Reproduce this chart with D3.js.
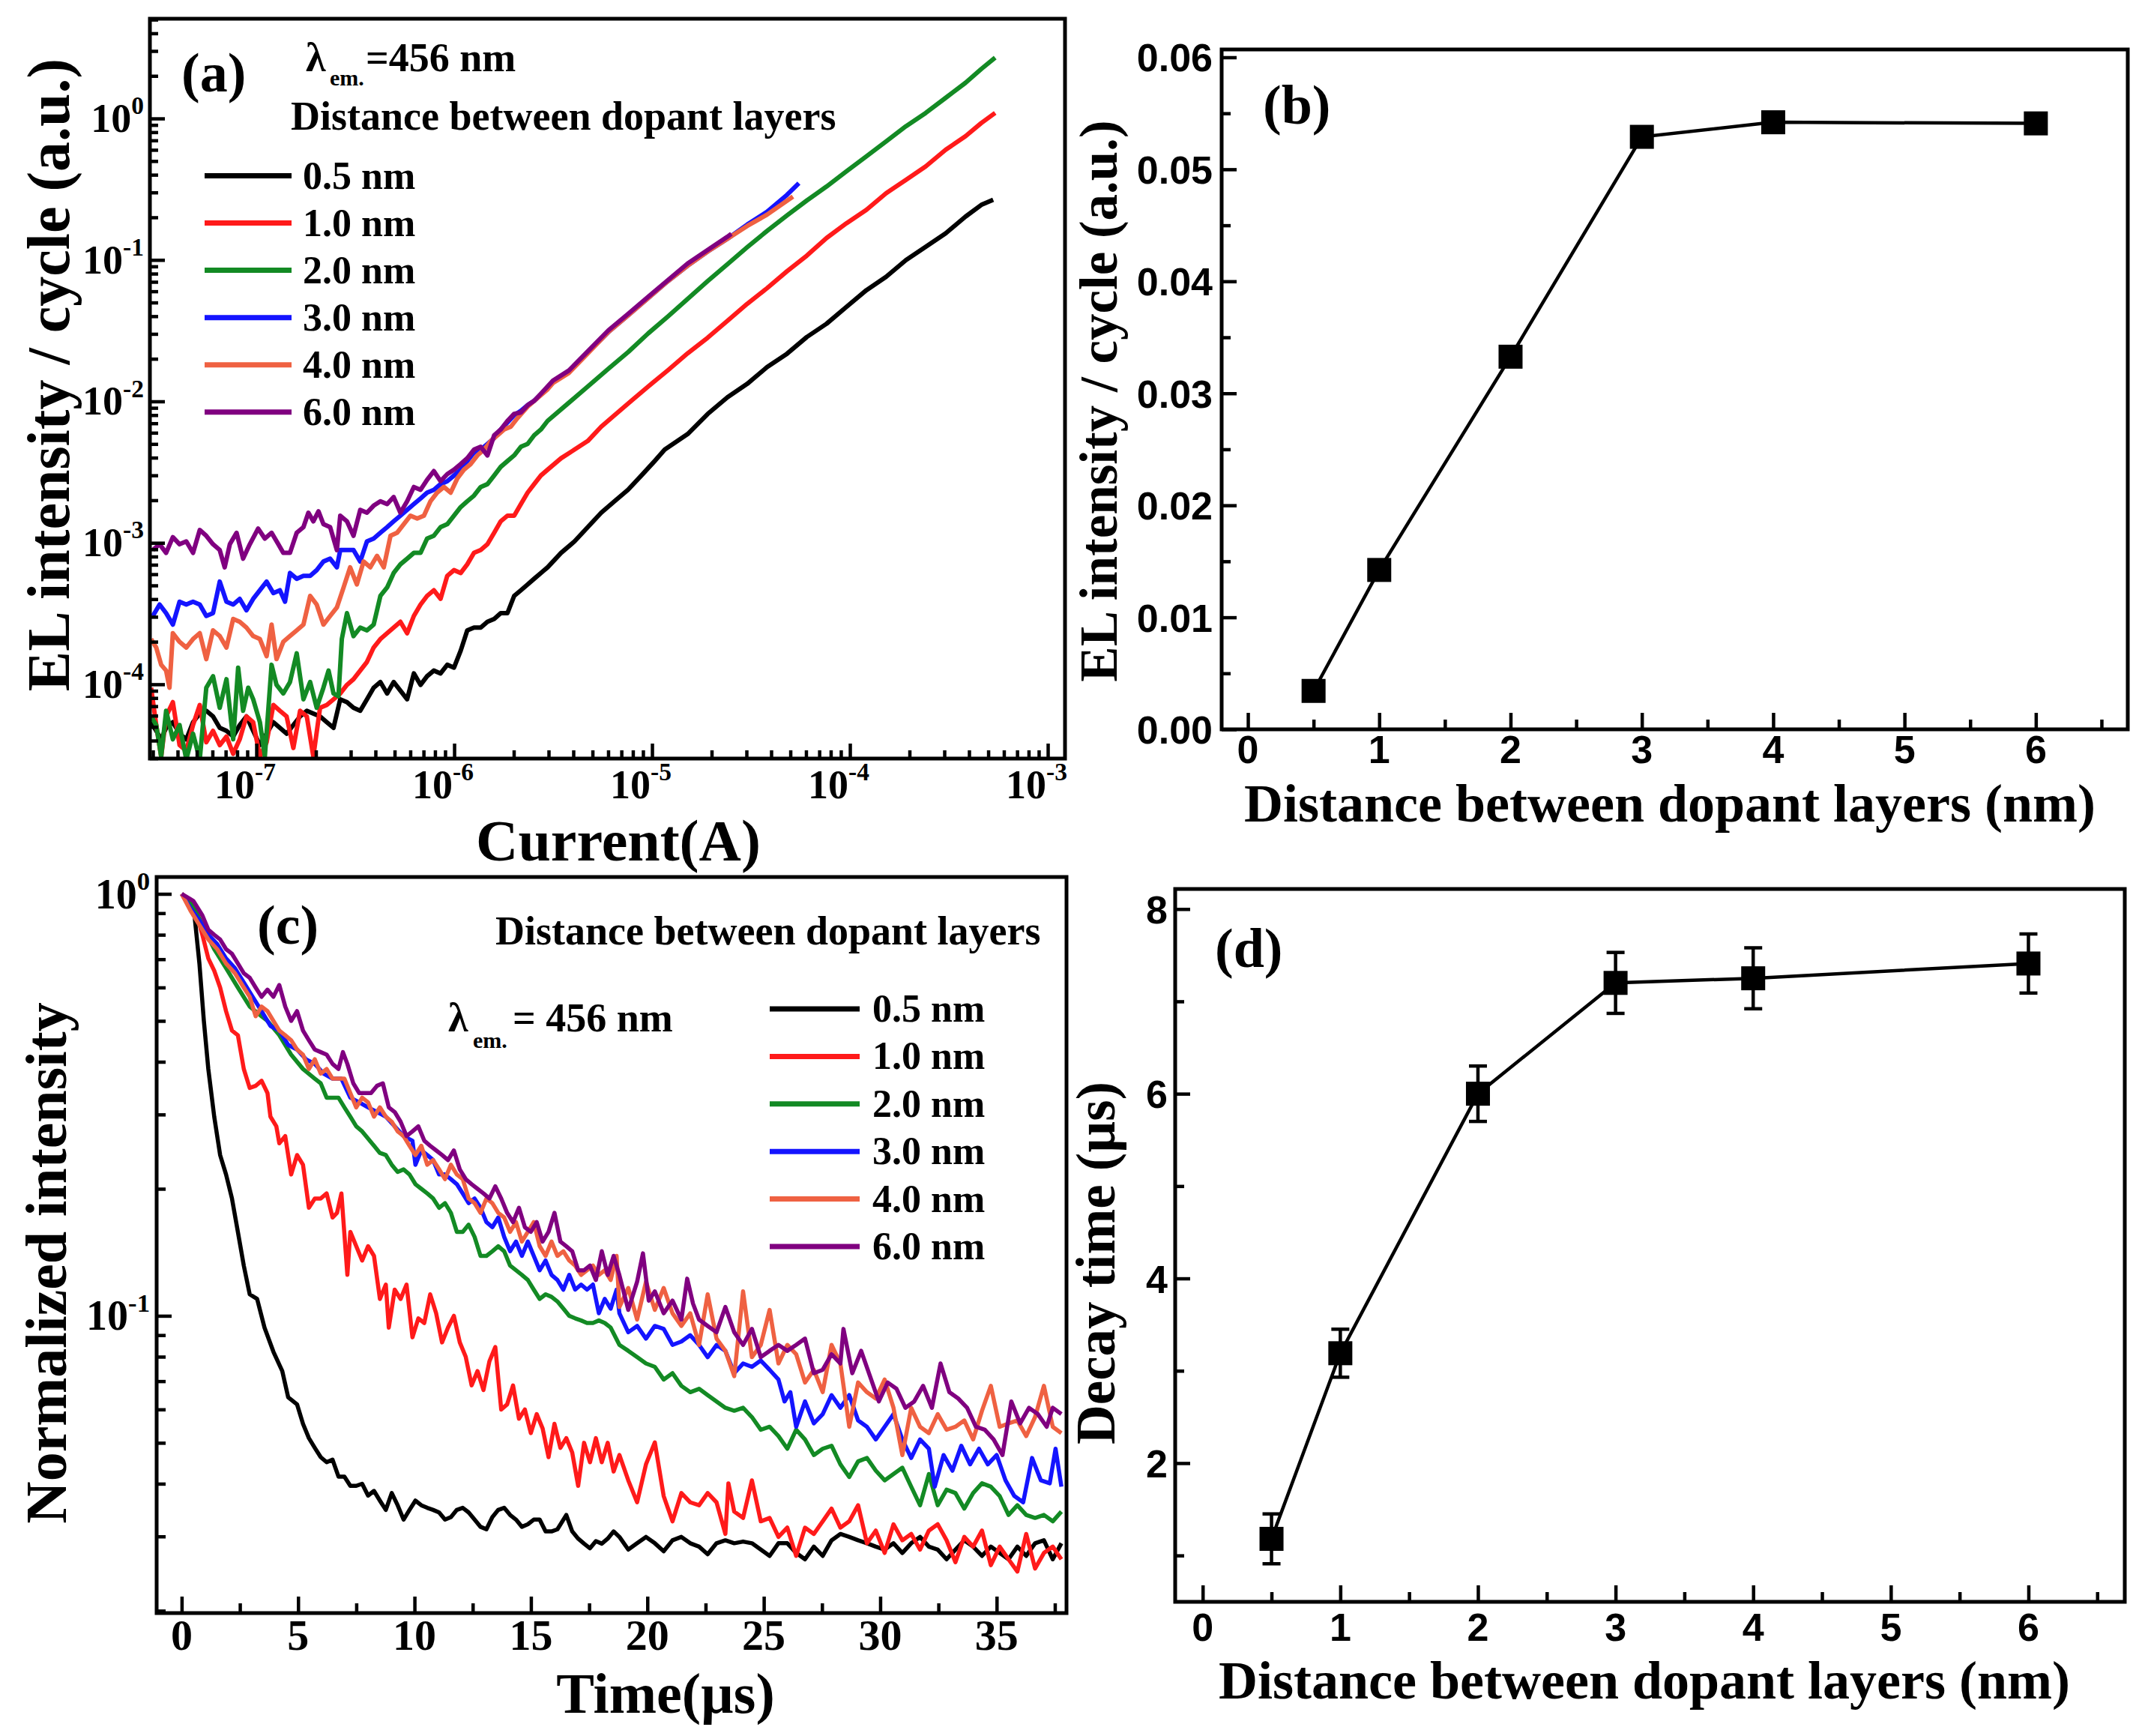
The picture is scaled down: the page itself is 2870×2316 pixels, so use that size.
<!DOCTYPE html>
<html><head><meta charset="utf-8">
<script src="https://cdn.jsdelivr.net/npm/d3@7"></script>
<style>body{margin:0;background:#fff}svg{display:block}</style>
</head><body><svg id="c" width="2870" height="2316"></svg>
<script>
// ---------- shared ----------
const seriesLabels = ["0.5 nm","1.0 nm","2.0 nm","3.0 nm","4.0 nm","6.0 nm"];
const seriesColors = ["#000000","#ff1a1a","#138a24","#1414ff","#ef6142","#800080"];

// ---------- panel (a): [log10 current (A), log10 EL intensity/cycle] ----------
const elA_05 = [[-7.532,-4.268],[-7.506,-4.329],[-7.481,-4.389],[-7.456,-4.308],[-7.422,-4.268],[-7.388,-4.349],[-7.354,-4.389],[-7.320,-4.268],[-7.286,-4.207],[-7.253,-4.187],[-7.219,-4.227],[-7.185,-4.308],[-7.151,-4.329],[-7.117,-4.369],[-7.084,-4.288],[-7.050,-4.227],[-7.016,-4.329],[-6.982,-4.430],[-6.948,-4.349],[-6.914,-4.268],[-6.881,-4.308],[-6.847,-4.349],[-6.813,-4.288],[-6.779,-4.227],[-6.745,-4.187],[-6.712,-4.207],[-6.678,-4.227],[-6.644,-4.268],[-6.610,-4.308],[-6.576,-4.106],[-6.542,-4.126],[-6.509,-4.166],[-6.475,-4.187],[-6.441,-4.106],[-6.407,-4.024],[-6.373,-3.984],[-6.339,-4.065],[-6.306,-3.984],[-6.272,-4.045],[-6.238,-4.106],[-6.204,-3.923],[-6.170,-4.004],[-6.137,-3.943],[-6.103,-3.903],[-6.069,-3.923],[-6.035,-3.862],[-6.001,-3.882],[-5.967,-3.761],[-5.934,-3.619],[-5.900,-3.599],[-5.866,-3.599],[-5.832,-3.558],[-5.798,-3.538],[-5.765,-3.497],[-5.731,-3.497],[-5.697,-3.375],[-5.663,-3.335],[-5.629,-3.294],[-5.596,-3.254],[-5.562,-3.213],[-5.528,-3.173],[-5.460,-3.071],[-5.392,-2.990],[-5.325,-2.889],[-5.257,-2.787],[-5.190,-2.706],[-5.122,-2.625],[-5.054,-2.524],[-4.987,-2.422],[-4.936,-2.341],[-4.820,-2.231],[-4.719,-2.089],[-4.619,-1.971],[-4.519,-1.876],[-4.419,-1.758],[-4.318,-1.663],[-4.218,-1.545],[-4.118,-1.451],[-4.018,-1.332],[-3.917,-1.214],[-3.817,-1.119],[-3.717,-1.001],[-3.617,-0.907],[-3.516,-0.812],[-3.416,-0.694],[-3.336,-0.611],[-3.276,-0.575]];
const elA_10 = [[-7.532,-4.024],[-7.506,-4.288],[-7.481,-4.511],[-7.456,-4.227],[-7.422,-4.126],[-7.388,-4.430],[-7.354,-4.471],[-7.320,-4.288],[-7.286,-4.146],[-7.253,-4.410],[-7.219,-4.329],[-7.185,-4.430],[-7.151,-4.369],[-7.117,-4.491],[-7.084,-4.389],[-7.050,-4.227],[-7.016,-4.268],[-6.982,-4.511],[-6.948,-4.410],[-6.914,-4.146],[-6.881,-4.187],[-6.847,-4.227],[-6.813,-4.450],[-6.779,-4.187],[-6.745,-4.227],[-6.712,-4.511],[-6.678,-4.166],[-6.644,-4.146],[-6.610,-4.106],[-6.576,-4.065],[-6.542,-4.004],[-6.509,-3.964],[-6.475,-3.903],[-6.441,-3.842],[-6.407,-3.740],[-6.373,-3.680],[-6.339,-3.639],[-6.306,-3.599],[-6.272,-3.558],[-6.238,-3.639],[-6.204,-3.517],[-6.170,-3.436],[-6.137,-3.375],[-6.103,-3.335],[-6.069,-3.396],[-6.035,-3.233],[-6.001,-3.193],[-5.967,-3.213],[-5.934,-3.152],[-5.900,-3.071],[-5.866,-3.051],[-5.832,-3.010],[-5.798,-2.929],[-5.765,-2.848],[-5.731,-2.808],[-5.697,-2.808],[-5.663,-2.726],[-5.629,-2.645],[-5.596,-2.585],[-5.562,-2.524],[-5.528,-2.483],[-5.460,-2.402],[-5.392,-2.341],[-5.325,-2.280],[-5.257,-2.179],[-5.190,-2.098],[-5.105,-1.996],[-5.020,-1.895],[-4.920,-1.780],[-4.820,-1.660],[-4.719,-1.550],[-4.619,-1.430],[-4.519,-1.310],[-4.419,-1.200],[-4.318,-1.080],[-4.218,-0.970],[-4.118,-0.845],[-4.018,-0.741],[-3.917,-0.646],[-3.817,-0.528],[-3.717,-0.434],[-3.617,-0.339],[-3.516,-0.221],[-3.416,-0.126],[-3.336,-0.032],[-3.266,0.039]];
const elA_20 = [[-7.532,-4.227],[-7.506,-4.288],[-7.481,-4.511],[-7.456,-4.187],[-7.422,-4.389],[-7.388,-4.288],[-7.354,-4.531],[-7.320,-4.349],[-7.286,-4.531],[-7.253,-4.024],[-7.219,-3.943],[-7.185,-4.166],[-7.151,-3.964],[-7.117,-4.389],[-7.092,-3.882],[-7.067,-4.187],[-7.041,-4.024],[-7.016,-4.106],[-6.982,-4.268],[-6.957,-4.511],[-6.923,-3.862],[-6.898,-4.004],[-6.864,-4.065],[-6.830,-3.984],[-6.796,-3.781],[-6.762,-4.106],[-6.728,-3.984],[-6.695,-4.166],[-6.661,-4.024],[-6.635,-3.903],[-6.610,-4.065],[-6.585,-4.085],[-6.568,-3.680],[-6.542,-3.497],[-6.509,-3.659],[-6.475,-3.599],[-6.441,-3.619],[-6.407,-3.578],[-6.373,-3.375],[-6.339,-3.315],[-6.306,-3.213],[-6.272,-3.152],[-6.238,-3.112],[-6.204,-3.071],[-6.170,-3.071],[-6.137,-2.970],[-6.103,-2.950],[-6.069,-2.889],[-6.035,-2.868],[-6.001,-2.808],[-5.967,-2.747],[-5.934,-2.706],[-5.900,-2.666],[-5.866,-2.605],[-5.832,-2.585],[-5.798,-2.524],[-5.765,-2.463],[-5.731,-2.422],[-5.697,-2.382],[-5.663,-2.321],[-5.629,-2.301],[-5.596,-2.240],[-5.562,-2.199],[-5.528,-2.138],[-5.421,-2.010],[-5.321,-1.890],[-5.221,-1.770],[-5.120,-1.650],[-5.020,-1.520],[-4.920,-1.400],[-4.820,-1.275],[-4.719,-1.150],[-4.619,-1.030],[-4.519,-0.910],[-4.419,-0.795],[-4.318,-0.685],[-4.218,-0.580],[-4.118,-0.481],[-4.018,-0.374],[-3.917,-0.268],[-3.817,-0.162],[-3.717,-0.055],[-3.617,0.039],[-3.516,0.146],[-3.416,0.252],[-3.336,0.350],[-3.266,0.430]];
const elA_30 = [[-7.523,-3.517],[-7.489,-3.436],[-7.456,-3.497],[-7.422,-3.578],[-7.388,-3.416],[-7.354,-3.436],[-7.320,-3.416],[-7.286,-3.436],[-7.253,-3.517],[-7.219,-3.497],[-7.185,-3.274],[-7.151,-3.416],[-7.117,-3.436],[-7.084,-3.396],[-7.050,-3.477],[-7.016,-3.396],[-6.982,-3.335],[-6.948,-3.274],[-6.914,-3.355],[-6.881,-3.335],[-6.855,-3.416],[-6.830,-3.213],[-6.796,-3.254],[-6.762,-3.233],[-6.728,-3.233],[-6.695,-3.193],[-6.661,-3.132],[-6.627,-3.112],[-6.593,-3.173],[-6.576,-3.051],[-6.542,-3.051],[-6.509,-3.051],[-6.475,-3.132],[-6.441,-2.990],[-6.407,-2.970],[-6.373,-2.929],[-6.339,-2.889],[-6.306,-2.848],[-6.272,-2.808],[-6.238,-2.767],[-6.204,-2.726],[-6.170,-2.686],[-6.137,-2.645],[-6.103,-2.625],[-6.069,-2.585],[-6.035,-2.564],[-6.001,-2.524],[-5.967,-2.483],[-5.934,-2.422],[-5.900,-2.361],[-5.866,-2.341],[-5.832,-2.301],[-5.798,-2.260],[-5.765,-2.199],[-5.731,-2.149],[-5.697,-2.098],[-5.663,-2.067],[-5.629,-2.027],[-5.596,-1.996],[-5.562,-1.952],[-5.528,-1.905],[-5.501,-1.860],[-5.421,-1.790],[-5.321,-1.650],[-5.221,-1.510],[-5.120,-1.390],[-5.020,-1.270],[-4.920,-1.150],[-4.820,-1.040],[-4.719,-0.940],[-4.619,-0.850],[-4.519,-0.750],[-4.419,-0.660],[-4.318,-0.540],[-4.258,-0.457]];
const elA_40 = [[-7.532,-3.680],[-7.506,-3.740],[-7.481,-3.862],[-7.456,-3.903],[-7.439,-4.024],[-7.422,-3.639],[-7.388,-3.700],[-7.354,-3.740],[-7.320,-3.680],[-7.286,-3.639],[-7.253,-3.822],[-7.219,-3.619],[-7.185,-3.659],[-7.151,-3.740],[-7.117,-3.538],[-7.084,-3.558],[-7.050,-3.599],[-7.016,-3.659],[-6.982,-3.680],[-6.948,-3.801],[-6.923,-3.578],[-6.898,-3.822],[-6.864,-3.700],[-6.830,-3.659],[-6.796,-3.619],[-6.762,-3.578],[-6.728,-3.375],[-6.695,-3.436],[-6.661,-3.578],[-6.627,-3.517],[-6.593,-3.457],[-6.559,-3.315],[-6.526,-3.173],[-6.492,-3.294],[-6.458,-3.132],[-6.424,-3.173],[-6.390,-3.092],[-6.356,-3.173],[-6.322,-2.950],[-6.289,-2.929],[-6.255,-2.868],[-6.221,-2.808],[-6.187,-2.828],[-6.153,-2.808],[-6.120,-2.706],[-6.086,-2.645],[-6.052,-2.605],[-6.018,-2.645],[-5.984,-2.544],[-5.951,-2.483],[-5.917,-2.443],[-5.883,-2.382],[-5.849,-2.341],[-5.815,-2.280],[-5.781,-2.240],[-5.748,-2.199],[-5.714,-2.179],[-5.680,-2.118],[-5.629,-2.037],[-5.579,-1.976],[-5.528,-1.915],[-5.501,-1.870],[-5.421,-1.800],[-5.321,-1.655],[-5.221,-1.510],[-5.120,-1.390],[-5.020,-1.270],[-4.920,-1.150],[-4.820,-1.040],[-4.719,-0.940],[-4.619,-0.850],[-4.519,-0.760],[-4.419,-0.680],[-4.288,-0.552]];
const elA_60 = [[-7.523,-3.051],[-7.489,-3.010],[-7.456,-3.071],[-7.422,-2.960],[-7.388,-3.010],[-7.354,-2.990],[-7.320,-3.071],[-7.286,-2.909],[-7.253,-2.950],[-7.219,-3.010],[-7.185,-3.051],[-7.160,-3.173],[-7.134,-3.010],[-7.100,-2.929],[-7.067,-3.112],[-7.033,-3.010],[-6.991,-2.899],[-6.957,-2.970],[-6.923,-2.929],[-6.889,-3.010],[-6.864,-3.071],[-6.830,-3.071],[-6.796,-2.929],[-6.762,-2.889],[-6.737,-2.787],[-6.712,-2.848],[-6.686,-2.777],[-6.661,-2.868],[-6.627,-2.889],[-6.593,-3.051],[-6.576,-2.808],[-6.542,-2.848],[-6.509,-2.950],[-6.475,-2.767],[-6.441,-2.787],[-6.407,-2.737],[-6.373,-2.706],[-6.339,-2.726],[-6.306,-2.676],[-6.272,-2.787],[-6.238,-2.706],[-6.204,-2.605],[-6.170,-2.625],[-6.137,-2.554],[-6.103,-2.493],[-6.069,-2.564],[-6.035,-2.514],[-6.001,-2.483],[-5.967,-2.443],[-5.934,-2.402],[-5.900,-2.341],[-5.866,-2.321],[-5.832,-2.382],[-5.798,-2.240],[-5.765,-2.199],[-5.731,-2.138],[-5.697,-2.088],[-5.663,-2.078],[-5.629,-2.027],[-5.596,-1.996],[-5.562,-1.946],[-5.528,-1.895],[-5.501,-1.853],[-5.421,-1.782],[-5.321,-1.640],[-5.221,-1.498],[-5.120,-1.380],[-5.020,-1.261],[-4.920,-1.143],[-4.820,-1.025],[-4.719,-0.930],[-4.619,-0.836],[-4.599,-0.815]];

// ---------- panel (b) ----------
const distances = [0.5, 1, 2, 3, 4, 6];
const elPerCycle = [0.00343, 0.01423, 0.03327, 0.0529, 0.0542, 0.0541];

// ---------- panel (c): [time (µs), log10 normalized intensity] ----------
const decC_05 = [[0,0],[0.508,-0.028],[0.762,-0.165],[0.953,-0.301],[1.144,-0.415],[1.398,-0.528],[1.652,-0.619],[1.906,-0.665],[2.160,-0.722],[2.414,-0.801],[2.668,-0.881],[2.922,-0.949],[3.240,-0.960],[3.558,-1.028],[3.939,-1.085],[4.320,-1.131],[4.574,-1.193],[4.956,-1.210],[5.210,-1.256],[5.464,-1.290],[5.718,-1.313],[5.972,-1.335],[6.226,-1.347],[6.480,-1.341],[6.734,-1.381],[6.989,-1.381],[7.243,-1.403],[7.497,-1.403],[7.751,-1.398],[8.005,-1.426],[8.259,-1.415],[8.513,-1.438],[8.767,-1.460],[9.022,-1.420],[9.276,-1.449],[9.530,-1.483],[9.784,-1.460],[10.038,-1.438],[10.292,-1.449],[10.546,-1.455],[10.800,-1.460],[11.055,-1.466],[11.309,-1.483],[11.563,-1.477],[11.817,-1.460],[12.071,-1.455],[12.325,-1.466],[12.579,-1.483],[12.834,-1.500],[13.088,-1.506],[13.342,-1.477],[13.596,-1.460],[13.850,-1.455],[14.104,-1.472],[14.358,-1.483],[14.612,-1.500],[14.867,-1.494],[15.121,-1.483],[15.375,-1.483],[15.629,-1.511],[15.883,-1.511],[16.137,-1.506],[16.518,-1.472],[16.772,-1.511],[17.027,-1.528],[17.281,-1.540],[17.535,-1.551],[17.789,-1.534],[18.043,-1.540],[18.297,-1.528],[18.551,-1.511],[18.80,-1.524],[19.18,-1.554],[19.56,-1.539],[19.94,-1.524],[20.32,-1.539],[20.70,-1.558],[21.08,-1.532],[21.46,-1.524],[21.84,-1.539],[22.22,-1.547],[22.59,-1.565],[22.97,-1.539],[23.35,-1.532],[23.73,-1.539],[24.11,-1.535],[24.49,-1.539],[24.87,-1.554],[25.25,-1.569],[25.63,-1.539],[26.01,-1.539],[26.39,-1.562],[26.77,-1.577],[27.15,-1.547],[27.53,-1.569],[27.91,-1.532],[28.29,-1.517],[28.67,-1.524],[29.05,-1.532],[29.43,-1.539],[29.81,-1.547],[30.19,-1.554],[30.57,-1.539],[30.95,-1.562],[31.33,-1.539],[31.71,-1.524],[32.09,-1.547],[32.47,-1.554],[32.85,-1.577],[33.23,-1.554],[33.61,-1.532],[33.99,-1.547],[34.37,-1.569],[34.75,-1.547],[35.13,-1.562],[35.51,-1.577],[35.89,-1.547],[36.27,-1.569],[36.65,-1.539],[37.03,-1.532],[37.41,-1.577],[37.78,-1.539]];
const decC_10 = [[0,0],[0.508,-0.023],[0.889,-0.097],[1.144,-0.153],[1.398,-0.182],[1.652,-0.222],[1.906,-0.278],[2.160,-0.324],[2.414,-0.335],[2.668,-0.415],[2.922,-0.460],[3.177,-0.455],[3.431,-0.443],[3.685,-0.472],[3.812,-0.528],[4.066,-0.551],[4.193,-0.591],[4.447,-0.574],[4.701,-0.665],[4.956,-0.619],[5.210,-0.642],[5.464,-0.744],[5.718,-0.722],[5.972,-0.722],[6.226,-0.710],[6.480,-0.767],[6.671,-0.756],[6.861,-0.710],[7.116,-0.903],[7.243,-0.801],[7.497,-0.835],[7.751,-0.869],[8.005,-0.835],[8.259,-0.858],[8.513,-0.960],[8.767,-0.926],[8.895,-1.028],[9.149,-0.938],[9.403,-0.960],[9.657,-0.926],[9.911,-1.051],[10.165,-1.006],[10.419,-1.017],[10.673,-0.949],[10.928,-0.994],[11.182,-1.063],[11.436,-1.028],[11.690,-1.000],[11.944,-1.063],[12.198,-1.097],[12.452,-1.165],[12.706,-1.131],[12.961,-1.176],[13.215,-1.108],[13.469,-1.074],[13.723,-1.222],[13.977,-1.210],[14.231,-1.165],[14.485,-1.244],[14.739,-1.222],[14.994,-1.278],[15.248,-1.233],[15.502,-1.267],[15.756,-1.335],[16.010,-1.256],[16.264,-1.313],[16.518,-1.290],[16.772,-1.324],[17.027,-1.403],[17.281,-1.301],[17.535,-1.347],[17.789,-1.290],[18.043,-1.347],[18.297,-1.301],[18.551,-1.369],[18.80,-1.330],[19.18,-1.390],[19.56,-1.442],[19.94,-1.352],[20.32,-1.300],[20.70,-1.427],[21.08,-1.487],[21.46,-1.420],[21.84,-1.442],[22.22,-1.449],[22.59,-1.420],[22.97,-1.442],[23.35,-1.517],[23.48,-1.397],[23.73,-1.464],[24.11,-1.479],[24.49,-1.390],[24.87,-1.487],[25.25,-1.479],[25.63,-1.524],[26.01,-1.502],[26.39,-1.569],[26.77,-1.502],[27.15,-1.517],[27.53,-1.487],[27.91,-1.457],[28.29,-1.502],[28.67,-1.487],[29.05,-1.449],[29.43,-1.539],[29.81,-1.509],[30.19,-1.562],[30.57,-1.494],[30.95,-1.532],[31.33,-1.517],[31.71,-1.554],[32.09,-1.509],[32.47,-1.494],[32.85,-1.532],[33.23,-1.584],[33.61,-1.524],[33.99,-1.547],[34.37,-1.509],[34.75,-1.591],[35.13,-1.547],[35.51,-1.577],[35.89,-1.606],[36.27,-1.517],[36.65,-1.599],[37.03,-1.562],[37.41,-1.547],[37.78,-1.577]];
const decC_20 = [[0,0],[0.508,-0.028],[0.889,-0.074],[1.398,-0.131],[1.906,-0.176],[2.414,-0.222],[2.922,-0.267],[3.431,-0.290],[3.685,-0.301],[4.193,-0.335],[4.701,-0.381],[5.210,-0.415],[5.718,-0.438],[5.972,-0.449],[6.226,-0.483],[6.734,-0.483],[6.989,-0.506],[7.243,-0.528],[7.497,-0.551],[7.751,-0.563],[8.005,-0.580],[8.259,-0.597],[8.513,-0.614],[8.767,-0.619],[9.022,-0.642],[9.276,-0.659],[9.530,-0.653],[9.784,-0.665],[10.038,-0.688],[10.292,-0.699],[10.546,-0.710],[10.800,-0.722],[11.055,-0.744],[11.309,-0.733],[11.563,-0.756],[11.817,-0.801],[12.071,-0.801],[12.325,-0.784],[12.579,-0.813],[12.834,-0.858],[13.088,-0.858],[13.342,-0.847],[13.596,-0.835],[13.850,-0.847],[14.104,-0.881],[14.358,-0.892],[14.612,-0.903],[14.867,-0.915],[15.121,-0.938],[15.375,-0.960],[15.629,-0.949],[15.883,-0.955],[16.137,-0.966],[16.391,-0.983],[16.645,-1.000],[16.900,-1.006],[17.154,-1.011],[17.408,-1.017],[17.662,-1.017],[17.916,-1.011],[18.170,-1.017],[18.424,-1.028],[18.80,-1.069],[19.18,-1.083],[19.56,-1.098],[19.94,-1.113],[20.32,-1.121],[20.70,-1.151],[21.08,-1.136],[21.46,-1.166],[21.84,-1.181],[22.22,-1.173],[22.59,-1.188],[22.97,-1.203],[23.35,-1.218],[23.73,-1.225],[24.11,-1.218],[24.49,-1.240],[24.87,-1.270],[25.25,-1.263],[25.63,-1.285],[26.01,-1.315],[26.39,-1.270],[26.77,-1.293],[27.15,-1.330],[27.53,-1.315],[27.91,-1.308],[28.29,-1.352],[28.67,-1.382],[29.05,-1.345],[29.43,-1.337],[29.81,-1.367],[30.19,-1.390],[30.57,-1.375],[30.95,-1.360],[31.33,-1.405],[31.71,-1.449],[32.09,-1.375],[32.47,-1.449],[32.85,-1.412],[33.23,-1.420],[33.61,-1.457],[33.99,-1.420],[34.37,-1.397],[34.75,-1.405],[35.13,-1.427],[35.51,-1.472],[35.89,-1.449],[36.27,-1.472],[36.65,-1.479],[37.03,-1.472],[37.41,-1.487],[37.78,-1.464]];
const decC_30 = [[0,0],[0.381,-0.034],[0.762,-0.063],[1.144,-0.097],[1.525,-0.119],[1.906,-0.153],[2.287,-0.176],[2.668,-0.210],[3.050,-0.244],[3.431,-0.278],[3.812,-0.313],[4.193,-0.324],[4.574,-0.358],[4.956,-0.369],[5.337,-0.392],[5.718,-0.403],[6.099,-0.426],[6.480,-0.438],[6.861,-0.438],[7.243,-0.483],[7.624,-0.494],[8.005,-0.506],[8.386,-0.517],[8.767,-0.528],[9.149,-0.551],[9.530,-0.574],[9.911,-0.585],[10.038,-0.642],[10.292,-0.608],[10.546,-0.619],[10.800,-0.631],[11.055,-0.665],[11.309,-0.665],[11.563,-0.676],[11.817,-0.688],[12.071,-0.710],[12.325,-0.733],[12.579,-0.722],[12.834,-0.744],[13.088,-0.778],[13.342,-0.790],[13.596,-0.767],[13.850,-0.813],[14.104,-0.847],[14.358,-0.824],[14.612,-0.858],[14.867,-0.824],[15.121,-0.858],[15.375,-0.892],[15.629,-0.869],[15.883,-0.903],[16.137,-0.915],[16.391,-0.938],[16.645,-0.903],[16.900,-0.938],[17.154,-0.926],[17.408,-0.938],[17.662,-0.926],[17.916,-0.994],[18.170,-0.960],[18.424,-0.983],[18.678,-0.938],[18.80,-0.994],[19.18,-1.039],[19.56,-1.024],[19.94,-1.054],[20.32,-1.024],[20.70,-1.031],[21.08,-1.069],[21.46,-1.061],[21.84,-1.046],[22.22,-1.069],[22.59,-1.098],[22.97,-1.069],[23.35,-1.083],[23.73,-1.136],[24.11,-1.113],[24.49,-1.121],[24.87,-1.106],[25.25,-1.128],[25.63,-1.151],[25.89,-1.203],[26.14,-1.181],[26.39,-1.263],[26.77,-1.203],[27.15,-1.255],[27.53,-1.233],[27.91,-1.188],[28.29,-1.218],[28.67,-1.188],[29.05,-1.248],[29.43,-1.263],[29.81,-1.293],[30.19,-1.263],[30.57,-1.233],[30.95,-1.293],[31.33,-1.337],[31.71,-1.293],[32.09,-1.315],[32.34,-1.405],[32.72,-1.330],[33.10,-1.367],[33.48,-1.308],[33.86,-1.352],[34.24,-1.315],[34.62,-1.352],[35.00,-1.330],[35.38,-1.390],[35.76,-1.427],[36.14,-1.442],[36.52,-1.337],[36.90,-1.390],[37.28,-1.397],[37.53,-1.315],[37.78,-1.405]];
const decC_40 = [[0,0],[0.381,-0.040],[0.762,-0.074],[1.144,-0.108],[1.525,-0.131],[1.906,-0.165],[2.287,-0.188],[2.668,-0.222],[2.922,-0.244],[3.177,-0.290],[3.431,-0.267],[3.685,-0.278],[3.939,-0.301],[4.193,-0.324],[4.447,-0.335],[4.701,-0.347],[4.956,-0.369],[5.210,-0.381],[5.464,-0.415],[5.718,-0.392],[5.972,-0.426],[6.226,-0.415],[6.480,-0.438],[6.734,-0.438],[6.989,-0.438],[7.243,-0.472],[7.497,-0.506],[7.751,-0.483],[8.005,-0.494],[8.259,-0.528],[8.513,-0.506],[8.767,-0.528],[9.022,-0.540],[9.276,-0.563],[9.530,-0.574],[9.784,-0.597],[10.038,-0.619],[10.292,-0.597],[10.546,-0.642],[10.800,-0.631],[11.055,-0.653],[11.309,-0.676],[11.563,-0.642],[11.817,-0.665],[12.071,-0.676],[12.325,-0.722],[12.579,-0.733],[12.834,-0.756],[13.088,-0.722],[13.342,-0.733],[13.596,-0.756],[13.850,-0.767],[14.104,-0.801],[14.358,-0.778],[14.612,-0.824],[14.867,-0.801],[15.121,-0.778],[15.375,-0.835],[15.629,-0.858],[15.883,-0.824],[16.137,-0.858],[16.391,-0.847],[16.645,-0.869],[16.900,-0.881],[17.154,-0.903],[17.408,-0.892],[17.662,-0.881],[17.916,-0.903],[18.170,-0.892],[18.424,-0.915],[18.678,-0.858],[18.80,-0.979],[19.18,-0.934],[19.56,-1.009],[19.94,-0.919],[20.32,-0.986],[20.70,-0.934],[21.08,-0.994],[21.46,-1.024],[21.84,-0.994],[22.22,-1.069],[22.59,-0.949],[22.97,-1.054],[23.35,-1.083],[23.73,-1.143],[24.11,-0.942],[24.49,-1.098],[24.87,-1.069],[25.25,-0.986],[25.63,-1.113],[26.01,-1.069],[26.39,-1.091],[26.77,-1.158],[27.15,-1.128],[27.53,-1.181],[27.91,-1.069],[28.29,-1.113],[28.67,-1.263],[29.05,-1.158],[29.43,-1.181],[29.81,-1.196],[30.19,-1.151],[30.57,-1.218],[30.95,-1.330],[31.33,-1.218],[31.71,-1.263],[32.09,-1.278],[32.47,-1.233],[32.85,-1.270],[33.23,-1.263],[33.61,-1.248],[33.99,-1.293],[34.37,-1.225],[34.75,-1.166],[35.13,-1.263],[35.51,-1.255],[35.89,-1.248],[36.27,-1.285],[36.65,-1.240],[37.03,-1.166],[37.41,-1.263],[37.78,-1.278]];
const decC_60 = [[0,0],[0.508,-0.017],[0.889,-0.051],[1.144,-0.085],[1.398,-0.097],[1.652,-0.108],[1.906,-0.131],[2.160,-0.142],[2.414,-0.165],[2.668,-0.188],[2.922,-0.199],[3.177,-0.222],[3.431,-0.244],[3.685,-0.227],[3.939,-0.244],[4.193,-0.216],[4.447,-0.267],[4.701,-0.301],[4.956,-0.278],[5.210,-0.324],[5.464,-0.347],[5.718,-0.369],[5.972,-0.375],[6.226,-0.381],[6.480,-0.403],[6.734,-0.415],[6.925,-0.375],[7.116,-0.403],[7.370,-0.449],[7.624,-0.472],[7.878,-0.472],[8.132,-0.472],[8.386,-0.455],[8.640,-0.449],[8.895,-0.506],[9.149,-0.517],[9.403,-0.540],[9.657,-0.574],[9.911,-0.563],[10.165,-0.551],[10.419,-0.585],[10.673,-0.597],[10.928,-0.608],[11.182,-0.619],[11.436,-0.631],[11.690,-0.608],[11.944,-0.653],[12.198,-0.676],[12.452,-0.688],[12.706,-0.699],[12.961,-0.710],[13.215,-0.722],[13.469,-0.693],[13.723,-0.722],[13.977,-0.756],[14.231,-0.778],[14.485,-0.744],[14.739,-0.790],[14.994,-0.801],[15.248,-0.778],[15.502,-0.824],[15.756,-0.801],[16.010,-0.756],[16.264,-0.824],[16.518,-0.835],[16.772,-0.847],[17.027,-0.892],[17.281,-0.892],[17.535,-0.881],[17.789,-0.915],[18.043,-0.847],[18.297,-0.903],[18.551,-0.858],[18.80,-0.904],[19.18,-0.986],[19.56,-0.919],[19.81,-0.852],[20.06,-0.964],[20.32,-0.942],[20.70,-0.994],[21.08,-0.964],[21.46,-1.009],[21.71,-0.912],[21.96,-0.971],[22.22,-1.009],[22.59,-1.024],[22.97,-1.039],[23.35,-0.979],[23.73,-1.039],[24.11,-1.069],[24.49,-1.031],[24.87,-1.098],[25.25,-1.083],[25.63,-1.069],[26.01,-1.083],[26.39,-1.069],[26.77,-1.054],[27.15,-1.136],[27.53,-1.128],[27.91,-1.091],[28.29,-1.113],[28.42,-1.031],[28.80,-1.136],[29.18,-1.083],[29.56,-1.143],[29.94,-1.203],[30.32,-1.158],[30.70,-1.173],[31.08,-1.218],[31.46,-1.203],[31.84,-1.166],[32.22,-1.218],[32.59,-1.113],[32.97,-1.181],[33.35,-1.196],[33.73,-1.218],[34.11,-1.263],[34.49,-1.270],[34.87,-1.293],[35.25,-1.330],[35.63,-1.203],[36.01,-1.255],[36.39,-1.218],[36.77,-1.233],[37.15,-1.263],[37.41,-1.218],[37.78,-1.233]];

// ---------- panel (d) ----------
const decayTime = [1.18, 3.19, 6.0, 7.2, 7.25, 7.41];
const decayErr = [0.27, 0.26, 0.30, 0.33, 0.33, 0.32];

// ---------- drawing ----------
const SERIF = "'Liberation Serif','Times New Roman',serif";
const SANS = "'Liberation Sans',Arial,sans-serif";
const svg = d3.select("#c");
svg.append("rect").attr("width",2870).attr("height",2316).attr("fill","#fff");
const defs = svg.append("defs");

function txt(g, x, y, s, size, opts={}) {
  const t = g.append("text").attr("x",x).attr("y",y).text(s)
    .attr("font-family", opts.family || SERIF).attr("font-weight","bold")
    .attr("font-size",size).attr("fill","#000");
  if (opts.anchor) t.attr("text-anchor",opts.anchor);
  if (opts.rotate) t.attr("transform",`rotate(-90,${x},${y})`);
  return t;
}
function clip(id, x0,y0,x1,y1){
  defs.append("clipPath").attr("id",id).append("rect").attr("x",x0).attr("y",y0).attr("width",x1-x0).attr("height",y1-y0);
}
function frame(x0,y0,x1,y1){
  svg.append("rect").attr("x",x0).attr("y",y0).attr("width",x1-x0).attr("height",y1-y0)
    .attr("fill","none").attr("stroke","#000").attr("stroke-width",5);
}
function ticks(axisFn, scale, vals, len, transform){
  const ax = axisFn(scale).tickValues(vals).tickSizeInner(-len).tickSizeOuter(0).tickFormat("");
  const g = svg.append("g").attr("transform",transform).call(ax);
  g.select(".domain").remove();
  g.selectAll("line").attr("stroke","#000").attr("stroke-width",4.5);
}
function logMinors(lo, hi){
  const out=[];
  for(let n=-9;n<=1;n++) for(let k=2;k<=9;k++){ const v=k*Math.pow(10,n); if(v>lo&&v<hi) out.push(v); }
  return out;
}
function pow10Label(g, x, y, exp, size, anchor){
  const t = g.append("text").attr("x",x).attr("y",y).attr("text-anchor",anchor)
    .attr("font-family",SERIF).attr("font-weight","bold").attr("font-size",size).attr("fill","#000");
  t.append("tspan").text("10");
  t.append("tspan").attr("dy",-size*0.44).attr("font-size",size*0.62).text(String(exp));
}
function legend(x0, x1, tx, y0, dy){
  seriesLabels.forEach((s,i)=>{
    const y = y0 + dy*i;
    svg.append("line").attr("x1",x0).attr("x2",x1).attr("y1",y).attr("y2",y)
      .attr("stroke",seriesColors[i]).attr("stroke-width",7);
    txt(svg, tx, y+17, s, 52);
  });
}

// ===== Panel (a) =====
{
  const L=200,R=1421,T=25,B=1012;
  const x = d3.scaleLog().domain([Math.pow(10,-7.538),Math.pow(10,-2.913)]).range([L,R]);
  const y = d3.scaleLog().domain([Math.pow(10,-4.525),Math.pow(10,0.705)]).range([B,T]);
  clip("clipA",L,T,R,B);
  const g = svg.append("g").attr("clip-path","url(#clipA)");
  const line = d3.line().x(d=>x(Math.pow(10,d[0]))).y(d=>y(Math.pow(10,d[1])));
  [elA_05,elA_10,elA_20,elA_30,elA_40,elA_60].forEach((s,i)=>{
    g.append("path").attr("d",line(s)).attr("fill","none").attr("stroke",seriesColors[i])
      .attr("stroke-width",6).attr("stroke-linejoin","round");
  });
  const xMaj=[1e-7,1e-6,1e-5,1e-4,1e-3], yMaj=[1e-4,1e-3,1e-2,1e-1,1];
  ticks(d3.axisBottom, x, xMaj, 20, `translate(0,${B})`);
  ticks(d3.axisBottom, x, logMinors(...x.domain()), 11, `translate(0,${B})`);
  ticks(d3.axisLeft, y, yMaj, 20, `translate(${L},0)`);
  ticks(d3.axisLeft, y, logMinors(...y.domain()), 11, `translate(${L},0)`);
  frame(L,T,R,B);
  xMaj.forEach(v=>pow10Label(svg, x(v)-15, 1065, Math.round(Math.log10(v)), 54, "middle"));
  yMaj.forEach(v=>pow10Label(svg, 192, y(v)+18, Math.round(Math.log10(v)), 54, "end"));
  txt(svg, 825, 1148, "Current(A)", 78, {anchor:"middle"});
  txt(svg, 92, 500, "EL intensity / cycle (a.u.)", 80, {anchor:"middle", rotate:true});
  txt(svg, 242, 122, "(a)", 74);
  txt(svg, 408, 95, "λ", 54);
  txt(svg, 440, 114, "em.", 30);
  txt(svg, 488, 95, "=456 nm", 54);
  txt(svg, 388, 173, "Distance between dopant layers", 54);
  legend(273, 389, 404, 234.5, 63.05);
}

// ===== Panel (b) =====
{
  const L=1630,R=2839,T=66,B=973;
  const x = d3.scaleLinear().domain([-0.2,6.7]).range([L,R]);
  const y = d3.scaleLinear().domain([0,0.0607]).range([B,T]);
  const xMaj=[0,1,2,3,4,5,6], xMin=[0.5,1.5,2.5,3.5,4.5,5.5,6.5];
  const yMaj=[0,0.01,0.02,0.03,0.04,0.05,0.06], yMin=[0.005,0.015,0.025,0.035,0.045,0.055];
  ticks(d3.axisBottom, x, xMaj, 22, `translate(0,${B})`);
  ticks(d3.axisBottom, x, xMin, 13, `translate(0,${B})`);
  ticks(d3.axisLeft, y, yMaj, 20, `translate(${L},0)`);
  ticks(d3.axisLeft, y, yMin, 12, `translate(${L},0)`);
  const pts = distances.map((d,i)=>[d, elPerCycle[i]]);
  svg.append("path").attr("d", d3.line().x(d=>x(d[0])).y(d=>y(d[1]))(pts))
    .attr("fill","none").attr("stroke","#000").attr("stroke-width",4.5);
  svg.selectAll(".mb").data(pts).enter().append("rect")
    .attr("x",d=>x(d[0])-16).attr("y",d=>y(d[1])-16).attr("width",32).attr("height",32).attr("fill","#000");
  frame(L,T,R,B);
  xMaj.forEach(v=>txt(svg, x(v), 1018, String(v), 52, {anchor:"middle", family:SANS}));
  yMaj.forEach(v=>txt(svg, 1618, y(v)+19, v.toFixed(2), 52, {anchor:"end", family:SANS}));
  txt(svg, 2228, 1096, "Distance between dopant layers (nm)", 72, {anchor:"middle"});
  txt(svg, 1490, 535, "EL intensity / cycle (a.u.)", 71, {anchor:"middle", rotate:true});
  txt(svg, 1685, 165, "(b)", 74);
}

// ===== Panel (c) =====
{
  const L=209,R=1423,T=1170,B=2152;
  const x = d3.scaleLinear().domain([-1.075,38.0]).range([L,R]);
  const y = d3.scaleLog().domain([Math.pow(10,-1.7045),Math.pow(10,0.040)]).range([B,T]);
  clip("clipC",L,T,R,B);
  const g = svg.append("g").attr("clip-path","url(#clipC)");
  const line = d3.line().x(d=>x(d[0])).y(d=>y(Math.pow(10,d[1])));
  [decC_05,decC_10,decC_20,decC_30,decC_40,decC_60].forEach((s,i)=>{
    g.append("path").attr("d",line(s)).attr("fill","none").attr("stroke",seriesColors[i])
      .attr("stroke-width",5.5).attr("stroke-linejoin","round");
  });
  const xMaj=[0,5,10,15,20,25,30,35], xMin=[2.5,7.5,12.5,17.5,22.5,27.5,32.5,37.5];
  const yMaj=[0.1,1];
  ticks(d3.axisBottom, x, xMaj, 22, `translate(0,${B})`);
  ticks(d3.axisBottom, x, xMin, 13, `translate(0,${B})`);
  ticks(d3.axisLeft, y, yMaj, 20, `translate(${L},0)`);
  ticks(d3.axisLeft, y, logMinors(...y.domain()), 12, `translate(${L},0)`);
  frame(L,T,R,B);
  xMaj.forEach(v=>txt(svg, x(v), 2201, String(v), 58, {anchor:"middle"}));
  yMaj.forEach(v=>pow10Label(svg, 200, y(v)+19, Math.round(Math.log10(v)), 56, "end"));
  txt(svg, 888, 2285, "Time(µs)", 76, {anchor:"middle"});
  txt(svg, 88, 1685, "Normalized intensity", 78, {anchor:"middle", rotate:true});
  txt(svg, 343, 1259, "(c)", 74);
  txt(svg, 661, 1260, "Distance between dopant layers", 54);
  txt(svg, 598, 1376, "λ", 54);
  txt(svg, 631, 1398, "em.", 30);
  txt(svg, 684, 1376, "= 456 nm", 54);
  legend(1027, 1147, 1164, 1346, 63.4);
}

// ===== Panel (d) =====
{
  const L=1568,R=2835,T=1186,B=2137;
  const x = d3.scaleLinear().domain([-0.2,6.7]).range([L,R]);
  const y = d3.scaleLinear().domain([0.498,8.217]).range([B,T]);
  const xMaj=[0,1,2,3,4,5,6], xMin=[0.5,1.5,2.5,3.5,4.5,5.5,6.5];
  const yMaj=[2,4,6,8], yMin=[1,3,5,7];
  ticks(d3.axisBottom, x, xMaj, 22, `translate(0,${B})`);
  ticks(d3.axisBottom, x, xMin, 13, `translate(0,${B})`);
  ticks(d3.axisLeft, y, yMaj, 20, `translate(${L},0)`);
  ticks(d3.axisLeft, y, yMin, 12, `translate(${L},0)`);
  const pts = distances.map((d,i)=>({x:d, v:decayTime[i], e:decayErr[i]}));
  svg.append("path").attr("d", d3.line().x(d=>x(d.x)).y(d=>y(d.v))(pts))
    .attr("fill","none").attr("stroke","#000").attr("stroke-width",4.5);
  const eg = svg.append("g").attr("stroke","#000").attr("stroke-width",4.5);
  pts.forEach(d=>{
    eg.append("line").attr("x1",x(d.x)).attr("x2",x(d.x)).attr("y1",y(d.v-d.e)).attr("y2",y(d.v+d.e));
    [d.v-d.e, d.v+d.e].forEach(v=>eg.append("line").attr("x1",x(d.x)-12).attr("x2",x(d.x)+12).attr("y1",y(v)).attr("y2",y(v)));
  });
  svg.selectAll(".md").data(pts).enter().append("rect")
    .attr("x",d=>x(d.x)-16).attr("y",d=>y(d.v)-16).attr("width",32).attr("height",32).attr("fill","#000");
  frame(L,T,R,B);
  xMaj.forEach(v=>txt(svg, x(v), 2189, String(v), 52, {anchor:"middle", family:SANS}));
  yMaj.forEach(v=>txt(svg, 1558, y(v)+19, String(v), 52, {anchor:"end", family:SANS}));
  txt(svg, 2194, 2266, "Distance between dopant layers (nm)", 72, {anchor:"middle"});
  txt(svg, 1487, 1685, "Decay time (µs)", 73, {anchor:"middle", rotate:true});
  txt(svg, 1621, 1290, "(d)", 74);
}
</script></body></html>
